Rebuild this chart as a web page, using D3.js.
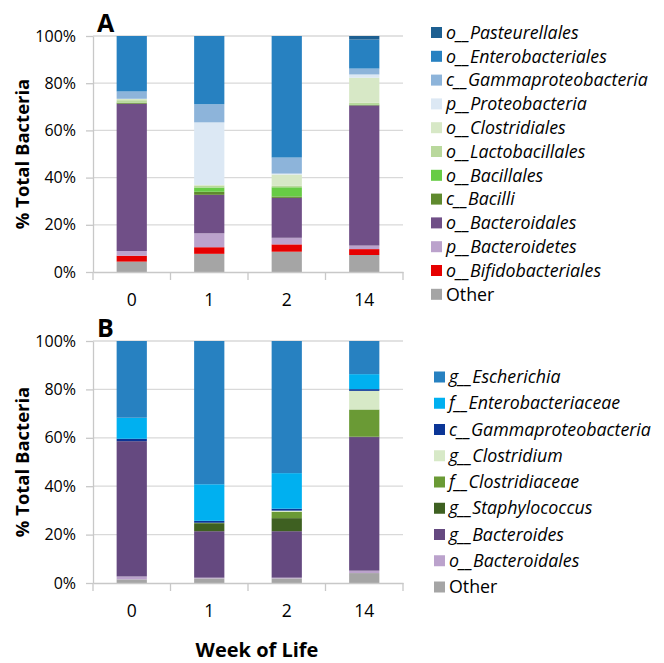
<!DOCTYPE html>
<html><head><meta charset="utf-8">
<script src="https://cdn.jsdelivr.net/npm/d3@7/dist/d3.min.js"></script>
<style>body{margin:0;background:#fff}svg{display:block}</style>
</head><body>
<svg id="chart" width="664" height="663"></svg>
<script>
// ---------- DATA ----------
const weeks = ["0", "1", "2", "14"];
const yTicks = [0, 20, 40, 60, 80, 100];

// Panel A (order: bottom -> top of stack)
const seriesNamesA = ["Other", "o__Bifidobacteriales", "p__Bacteroidetes", "o__Bacteroidales",
  "c__Bacilli", "o__Bacillales", "o__Lactobacillales", "o__Clostridiales",
  "p__Proteobacteria", "c__Gammaproteobacteria", "o__Enterobacteriales", "o__Pasteurellales"];
const aOther            = [4.4, 7.7, 8.6, 7.2];
const aBifidobacteriales= [2.5, 2.8, 3.1, 2.5];
const aBacteroidetes    = [2.0, 5.9, 2.8, 1.5];
const aBacteroidales    = [62.4, 16.3, 16.9, 59.4];
const aBacilli          = [0.4, 1.3, 0.6, 0.2];
const aBacillales       = [0.1, 1.8, 3.9, 0.2];
const aLactobacillales  = [1.0, 0.8, 0.6, 0.7];
const aClostridiales    = [0.5, 0.3, 4.8, 10.6];
const aProteobacteria   = [0.1, 26.5, 0.4, 1.4];
const aGammaproteo      = [3.1, 7.7, 6.8, 2.5];
const aEnterobacteriales= [23.5, 28.9, 51.5, 12.3];
const aPasteurellales   = [0, 0, 0, 1.5];
const coloursA = ["#a5a5a5", "#e60000", "#bba2cc", "#704f87", "#5f8a2e", "#67cc45", "#b9d89c",
  "#d7e8c6", "#dce8f4", "#8db4da", "#2781c1", "#1d5f91"];

// Panel B
const seriesNamesB = ["Other", "o__Bacteroidales", "g__Bacteroides", "g__Staphylococcus",
  "f__Clostridiaceae", "g__Clostridium", "c__Gammaproteobacteria", "f__Enterobacteriaceae", "g__Escherichia"];
const bOther            = [1.5, 1.9, 1.9, 4.1];
const bBacteroidales    = [1.2, 0.3, 0.3, 1.0];
const bBacteroides      = [55.9, 19.2, 19.2, 55.2];
const bStaphylococcus   = [0, 3.3, 5.4, 0.2];
const bClostridiaceae   = [0, 0.2, 2.6, 11.2];
const bClostridium      = [0, 0, 0.5, 7.7];
const bGammaproteo      = [1.0, 0.8, 0.8, 0.7];
const bEnterobacteriaceae = [8.7, 15.1, 14.7, 6.2];
const bEscherichia      = [31.7, 59.2, 54.6, 13.7];
const coloursB = ["#a5a5a5", "#bba2cc", "#654980", "#3e6021", "#6a9a35", "#d7e9c7", "#0b3596", "#00b0f0", "#2781c1"];

const valuesA = [aOther, aBifidobacteriales, aBacteroidetes, aBacteroidales, aBacilli, aBacillales,
  aLactobacillales, aClostridiales, aProteobacteria, aGammaproteo, aEnterobacteriales, aPasteurellales];
const valuesB = [bOther, bBacteroidales, bBacteroides, bStaphylococcus, bClostridiaceae, bClostridium,
  bGammaproteo, bEnterobacteriaceae, bEscherichia];

// ---------- DRAW ----------
const svg = d3.select("#chart");
const FONT = "'Open Sans', sans-serif";

function panel(opts) {
  const {names, values, colours, top, bottom, letter, legendX, legendTop, legendStep} = opts;
  const rows = weeks.map((w, i) => {
    const r = {week: w};
    names.forEach((n, j) => r[n] = values[j][i]);
    return r;
  });
  const x = d3.scaleBand().domain(weeks).range([93, 403]).paddingInner(0.61).paddingOuter(0.305);
  const y = d3.scaleLinear().domain([0, 100]).range([bottom, top]);
  const g = svg.append("g");

  // gridlines
  g.append("g").selectAll("line").data(yTicks.filter(t => t > 0)).join("line")
    .attr("x1", 93).attr("x2", 403).attr("y1", d => y(d)).attr("y2", d => y(d))
    .attr("stroke", "#d9d9d9").attr("stroke-width", 1.3);

  // y axis
  const yAxis = g.append("g").attr("transform", "translate(93,0)")
    .call(d3.axisLeft(y).tickValues(yTicks).tickFormat(d => d + "%").tickSize(7).tickSizeOuter(0).tickPadding(10));
  yAxis.select(".domain").attr("stroke", "#c8c8c8").attr("stroke-width", 1.3);
  yAxis.selectAll(".tick line").attr("stroke", "#c8c8c8").attr("stroke-width", 1.3);
  yAxis.selectAll("text").attr("font-family", FONT).attr("font-size", 16).attr("fill", "#000");

  // bars
  const stack = d3.stack().keys(names)(rows);
  g.append("g").selectAll("g").data(stack).join("g").attr("fill", (d, i) => colours[i])
    .selectAll("rect").data(d => d).join("rect")
    .attr("x", d => x(d.data.week))
    .attr("width", x.bandwidth())
    .attr("y", d => y(d[1]))
    .attr("height", d => Math.max(0, y(d[0]) - y(d[1])));

  // x axis
  const xAxis = g.append("g").attr("transform", `translate(0,${bottom})`)
    .call(d3.axisBottom(x).tickSize(0).tickPadding(22));
  xAxis.select(".domain").attr("stroke", "#c8c8c8").attr("stroke-width", 1.3);
  xAxis.selectAll("text").attr("font-family", FONT).attr("font-size", 17.5).attr("fill", "#000");
  // category boundary ticks
  const bounds = weeks.map(w => x(w) - x.step() * x.paddingInner() / 2).concat([403]);
  g.append("g").selectAll("line").data(bounds).join("line")
    .attr("x1", d => d).attr("x2", d => d).attr("y1", bottom).attr("y2", bottom + 8)
    .attr("stroke", "#c8c8c8").attr("stroke-width", 1.3);

  // y title
  g.append("text").attr("transform", `translate(29,${(top + bottom) / 2}) rotate(-90)`)
    .attr("text-anchor", "middle").attr("font-family", FONT).attr("font-weight", "bold")
    .attr("font-size", 18.5).text("% Total Bacteria");

  // panel letter
  g.append("text").attr("x", 97).attr("y", top - 4).attr("font-family", FONT)
    .attr("font-weight", "bold").attr("font-size", 25).text(letter);

  // legend (top entry = last series)
  const legendData = names.map((n, i) => ({name: n, colour: colours[i]})).reverse();
  const lg = g.append("g").selectAll("g").data(legendData).join("g")
    .attr("transform", (d, i) => `translate(${legendX},${legendTop + i * legendStep})`);
  lg.append("rect").attr("x", 0).attr("y", -5.5).attr("width", 11).attr("height", 11).attr("fill", d => d.colour);
  lg.append("text").attr("x", 15).attr("y", 0).attr("dy", "0.35em")
    .attr("font-family", FONT).attr("font-size", 17.8)
    .attr("font-style", d => d.name === "Other" ? "normal" : "italic")
    .text(d => d.name);
}

panel({names: seriesNamesA, values: valuesA, colours: coloursA, top: 36, bottom: 272, letter: "A",
  legendX: 431, legendTop: 32.5, legendStep: 23.8});
panel({names: seriesNamesB, values: valuesB, colours: coloursB, top: 341, bottom: 583, letter: "B",
  legendX: 434, legendTop: 377, legendStep: 26.25});

svg.append("text").attr("x", 257).attr("y", 650).attr("dy", "0.35em").attr("text-anchor", "middle")
  .attr("font-family", FONT).attr("font-weight", "bold").attr("font-size", 20).text("Week of Life");
</script>
</body></html>
